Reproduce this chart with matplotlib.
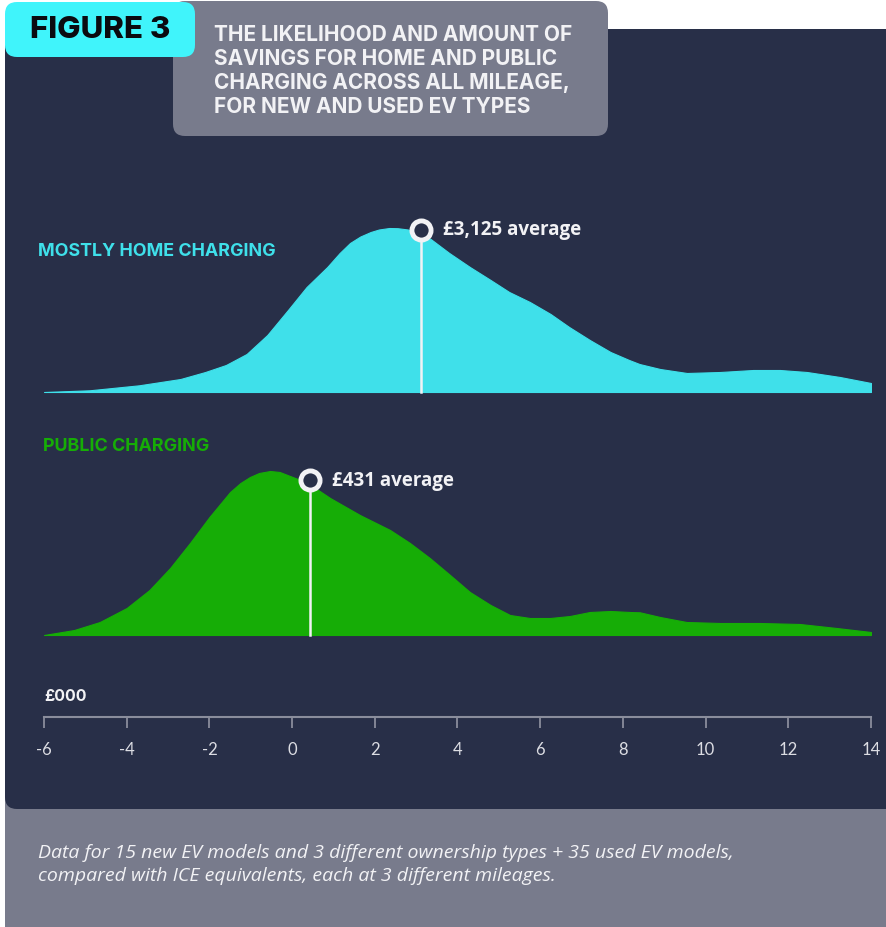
import numpy as np
import matplotlib
matplotlib.use("Agg")
import matplotlib.pyplot as plt
from matplotlib.patches import FancyBboxPatch

# ---------------- data ----------------
home_x = [-6, -4.9, -3.7, -2.7, -2.1, -1.6, -1.1, -0.6, -0.1, 0.35, 0.85, 1.15, 1.4, 1.65,
          1.9, 2.1, 2.35, 2.55, 2.8, 3.05, 3.35, 3.8, 4.3, 4.8, 5.25, 5.75, 6.25, 6.7, 7.2,
          7.7, 8.15, 8.4, 8.9, 9.55, 10.35, 11.15, 11.8, 12.45, 13.25, 14]
home_density = [0, 1.7, 6.7, 13, 20, 27, 38, 57, 82, 105, 125, 139, 149, 155.5,
                160, 162.5, 164, 163.8, 162.5, 159, 153, 139, 125, 112, 100, 90, 78, 65, 52,
                40, 32, 28, 23, 19, 20, 22, 22, 20, 15, 9]

public_x = [-6, -5.27, -4.65, -4.0, -3.45, -2.95, -2.47, -2.0, -1.5, -1.25, -1.02, -0.8,
            -0.53, -0.3, -0.05, 0.2, 0.45, 0.92, 1.64, 2.37, 2.85, 3.33, 3.82, 4.3, 4.8,
            5.27, 5.75, 6.24, 6.72, 7.2, 7.7, 8.17, 8.41, 8.9, 9.54, 10.35, 11.32, 12.28,
            13.17, 14]
public_density = [0, 5, 13, 27, 45, 67, 92, 118, 143, 152, 158, 162,
                  164, 163, 159, 155, 150, 137, 120, 105, 92, 77, 60, 43, 30,
                  20, 17, 17, 19, 23, 24, 23, 22.7, 18, 13, 12, 12, 11,
                  7, 3]

home_mean = 3.125
public_mean = 0.431
home_label = "£3,125 average"
public_label = "£431 average"
xticks = [-6, -4, -2, 0, 2, 4, 6, 8, 10, 12, 14]

# ---------------- style ----------------
NAVY = "#282f48"
GREY = "#787b8c"
CYAN_BOX = "#40f4fb"
CYAN = "#3fe0ea"
GREEN = "#16ad06"
WHITE = "#f2f2f5"
HEAD = ["Inter", "DejaVu Sans"]
FOOT = ["Open Sans", "DejaVu Sans"]
plt.rcParams["font.family"] = ["Lato", "DejaVu Sans"]

W, H = 887, 928
fig = plt.figure(figsize=(W / 100, H / 100), dpi=100, facecolor="white")

bg = fig.add_axes([0, 0, 1, 1])
bg.set_xlim(0, W)
bg.set_ylim(H, 0)
bg.axis("off")

def rbox(x, y, w, h, color, r=12, z=1):
    bg.add_patch(FancyBboxPatch((x, y), w, h, boxstyle=f"round,pad=0,rounding_size={r}",
                                fc=color, ec="none", zorder=z))

rbox(5, 760, 900, 200, GREY, r=12, z=1)       # footer
rbox(5, 30, 900, 780, NAVY, r=12, z=2)        # dark panel
rbox(173, 2, 435, 135, GREY, r=12, z=3)       # title box
rbox(5, 3, 190, 55, CYAN_BOX, r=12, z=4)      # figure tag

bg.text(100, 30, "FIGURE 3", color="#0b0b10", fontsize=22.5, fontweight="heavy",
        family=HEAD, ha="center", va="center", zorder=5)
title_lines = ["THE LIKELIHOOD AND AMOUNT OF", "SAVINGS FOR HOME AND PUBLIC",
               "CHARGING ACROSS ALL MILEAGE,", "FOR NEW AND USED EV TYPES"]
for i, line in enumerate(title_lines):
    bg.text(214, 35 + 24 * i, line, color=WHITE, fontsize=15, fontweight="bold",
            family=HEAD, ha="left", va="center", zorder=5)

bg.text(38, 251, "MOSTLY HOME CHARGING", color=CYAN, fontsize=12.9, fontweight="bold",
        family=HEAD, ha="left", va="center", zorder=5)
bg.text(43, 447, "PUBLIC CHARGING", color=GREEN, fontsize=12.9, fontweight="bold",
        family=HEAD, ha="left", va="center", zorder=5)
bg.text(44, 697, "£000", color=WHITE, fontsize=11.5, fontweight="bold",
        family=HEAD, ha="left", va="center", zorder=5)
bg.text(38, 853, "Data for 15 new EV models and 3 different ownership types + 35 used EV models,",
        color=WHITE, fontsize=14, style="italic", family=FOOT, ha="left", va="center", zorder=5)
bg.text(38, 876, "compared with ICE equivalents, each at 3 different mileages.",
        color=WHITE, fontsize=14, style="italic", family=FOOT, ha="left", va="center", zorder=5)

# ---------------- chart ----------------
ax_left, ax_right, ax_bottom_px, ax_top_px = 44, 871, 718, 180
ax = fig.add_axes([ax_left / W, 1 - ax_bottom_px / H, (ax_right - ax_left) / W,
                   (ax_bottom_px - ax_top_px) / H])
ax.set_facecolor("none")
ax.set_xlim(-6, 14)
ax.set_ylim(0, ax_bottom_px - ax_top_px)

home_base = 718 - 393
public_base = 718 - 636

for xs, ds, base, col, mean, label in [
        (home_x, home_density, home_base, CYAN, home_mean, home_label),
        (public_x, public_density, public_base, GREEN, public_mean, public_label)]:
    xs = np.asarray(xs, float)
    ds = np.asarray(ds, float)
    ax.fill_between(xs, base, base + ds, color=col, lw=0.8, edgecolor=col, zorder=2)
    ytop = base + np.interp(mean, xs, ds) + 5
    ax.plot([mean, mean], [base, ytop], color=WHITE, lw=1.8, zorder=3)
    ax.scatter([mean], [ytop], s=190, facecolor=NAVY, edgecolor=WHITE, linewidth=3.5, zorder=4)
    ax.annotate(label, (mean, ytop), xytext=(22, 0), textcoords="offset pixels",
                color=WHITE, fontsize=13.5, fontweight="bold", family=FOOT,
                ha="left", va="center", zorder=5)

for s in ["top", "right", "left"]:
    ax.spines[s].set_visible(False)
ax.spines["bottom"].set_color("#8a8d9c")
ax.spines["bottom"].set_linewidth(1.5)
ax.set_yticks([])
ax.set_xticks(xticks)
ax.set_xticklabels([str(t) for t in xticks])
ax.tick_params(axis="x", colors="#8a8d9c", length=8, width=1.3, pad=9,
               labelcolor="#dcdde3", labelsize=12)

fig.savefig("out.png", dpi=100, facecolor="white")
